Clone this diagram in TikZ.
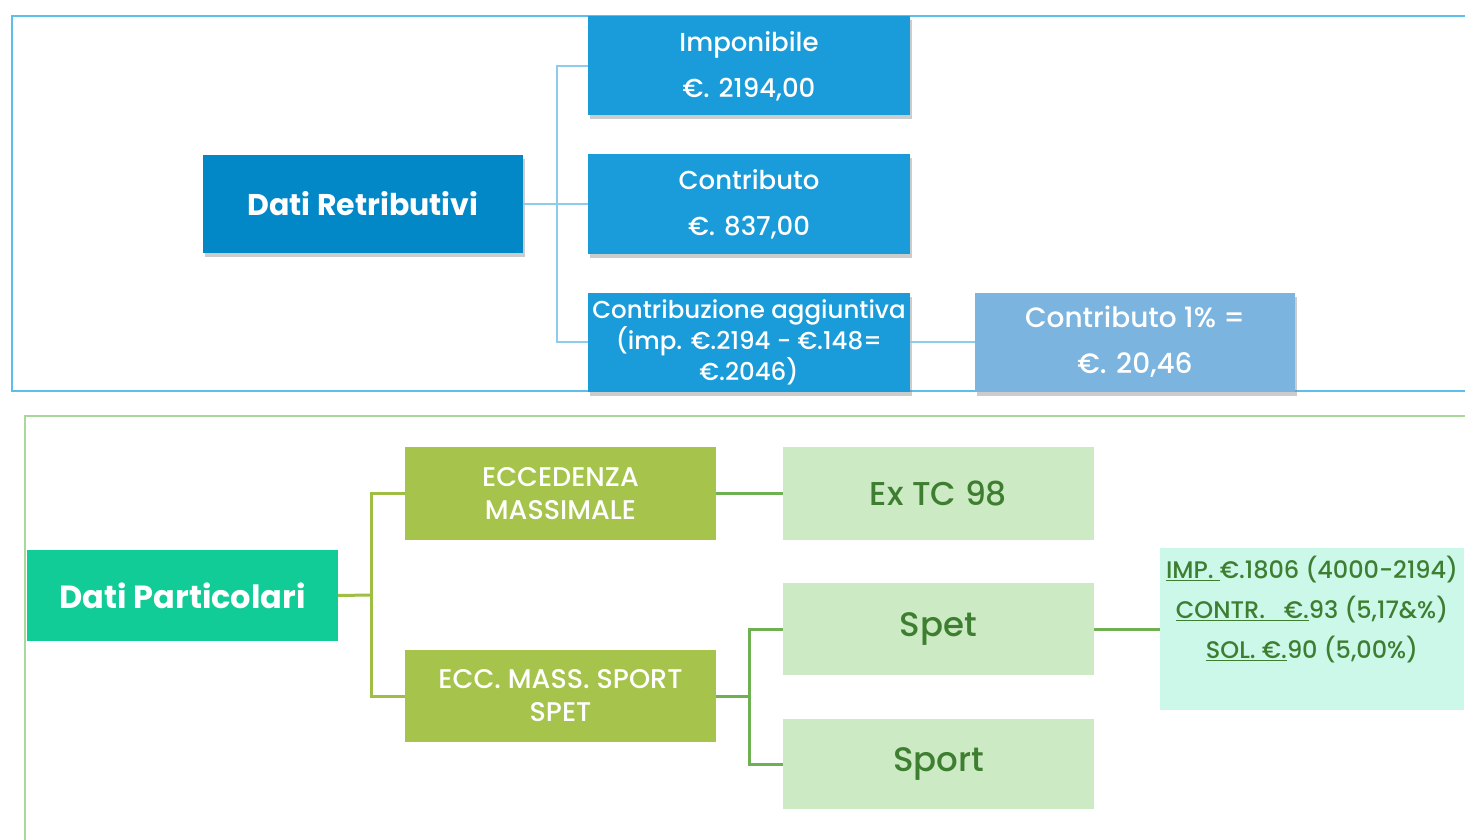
\documentclass[tikz,border=0pt]{standalone}
\usepackage{fontspec}
\setmainfont{Poppins}[UprightFont={* Medium},BoldFont={* Bold}]
\usetikzlibrary{shadows}
\definecolor{framebl}{HTML}{5CBEEA}
\definecolor{linkbl}{HTML}{8CCDEB}
\definecolor{retroblue}{HTML}{0288C6}
\definecolor{itemblue}{HTML}{199CD9}
\definecolor{paleblue}{HTML}{7CB4E0}
\definecolor{framegr}{HTML}{A9D89B}
\definecolor{partgreen}{HTML}{12CC98}
\definecolor{olivegr}{HTML}{A6C34C}
\definecolor{olivelink}{HTML}{9EBE44}
\definecolor{palegr}{HTML}{CCEAC3}
\definecolor{linkgr}{HTML}{6FB152}
\definecolor{darkgr}{HTML}{3E7E30}
\definecolor{mint}{HTML}{CCF8EA}

\begin{document}
\begin{tikzpicture}[x=1pt,y=-1pt,
  box/.style={rectangle,inner sep=0pt,align=center},
  shade/.style={drop shadow={shadow xshift=2pt,shadow yshift=-4pt,opacity=0.4}},
  bluebox/.style={box,shade,fill=itemblue,text=white,minimum width=322pt,minimum height=99pt,font=\fontsize{26}{46}\selectfont},
  olivebox/.style={box,fill=olivegr,text=white,minimum width=311pt,minimum height=93pt,font=\fontsize{27}{33}\selectfont},
  leafbox/.style={box,fill=palegr,text=darkgr,minimum width=311pt,minimum height=92pt},
  toplink/.style={draw=linkbl,line width=2pt},
  olivelk/.style={draw=olivelink,line width=3pt},
  greenlk/.style={draw=linkgr,line width=3pt}]

  \useasboundingbox (0,0) rectangle (1465,840);
  \fill[white] (0,0) rectangle (1465,840);

  \draw[framebl,line width=2pt] (1466,16) -- (12,16) -- (12,391) -- (1466,391);
  \draw[framegr,line width=2pt] (1466,416) -- (25,416) -- (25,841);

  \node (dr) at (363,204) [box,shade,fill=retroblue,text=white,minimum width=320pt,minimum height=98pt,font=\fontsize{30}{36}\selectfont\bfseries] {Dati Retributivi};

  \node (imp) at (749,66) [bluebox] {Imponibile\\€. 2194,00};
  \node (contr) at (749,204) [bluebox] {Contributo\\€. 837,00};
  \node (agg) at (749,342) [bluebox,font=\fontsize{24.5}{31}\selectfont] {Contribuzione aggiuntiva\\(imp. €.2194 - €.148=\\€.2046)};
  \node (one) at (1135,342) [bluebox,fill=paleblue,minimum width=320pt,font=\fontsize{28}{46}\selectfont] {Contributo 1\% =\\€. 20,46};

  \coordinate (tbus) at (557,204);
  \draw[toplink] (dr.east) -- (tbus);
  \draw[toplink] (tbus) |- (imp.west);
  \draw[toplink] (tbus) -- (contr.west);
  \draw[toplink] (tbus) |- (agg.west);
  \draw[toplink] (agg.east) -- (one.west);

  \node (dp) at (182.5,595.5) [box,fill=partgreen,text=white,minimum width=311pt,minimum height=91pt,font=\fontsize{32}{38}\selectfont\bfseries] {Dati Particolari};

  \node (ecc) at (560.5,493.5) [olivebox] {ECCEDENZA\\MASSIMALE};
  \node (ecs) at (560.5,696) [olivebox,minimum height=92pt] {ECC. MASS. SPORT\\SPET};

  \node (ex) at (938.5,493.5) [leafbox,minimum height=93pt,font=\fontsize{33}{38}\selectfont] {Ex TC 98};
  \node (spet) at (938.5,629) [leafbox,font=\fontsize{34}{40}\selectfont] {Spet};
  \node (sport) at (938.5,764) [leafbox,minimum height=90pt,font=\fontsize{34}{40}\selectfont] {Sport};

  \node (note) at (1312,548) [box,anchor=north,fill=mint,text=darkgr,minimum width=304pt,text height=110pt,text depth=52pt,font=\fontsize{24}{40}\selectfont] {\underline{IMP. }€.1806 (4000-2194)\\\underline{CONTR.\ \ \ €.}93 (5,17\&\%)\\\underline{SOL. €.}90 (5,00\%)};

  \coordinate (pbus) at (371,595);
  \draw[olivelk] (dp.east) -- (pbus);
  \draw[olivelk] (pbus) |- (ecc.west);
  \draw[olivelk] (pbus) |- (ecs.west);

  \draw[greenlk] (ecc.east) -- (ex.west);

  \coordinate (sbus) at (749,696);
  \draw[greenlk] (ecs.east) -- (sbus);
  \draw[greenlk] (sbus) |- (spet.west);
  \draw[greenlk] (sbus) |- (sport.west);

  \draw[greenlk] (spet.east) -- (note.west |- spet.east);
\end{tikzpicture}
\end{document}
